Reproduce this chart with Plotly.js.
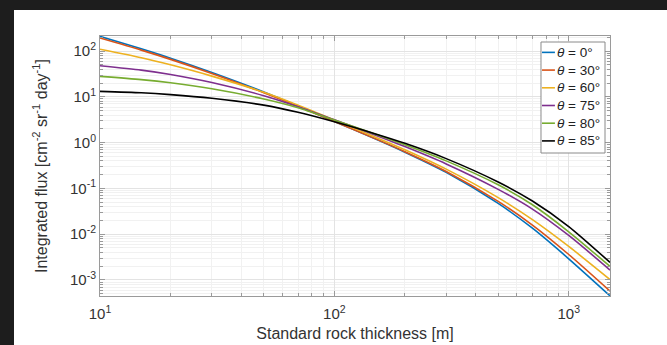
<!DOCTYPE html>
<html>
<head>
<meta charset="utf-8">
<script src="https://cdn.plot.ly/plotly-3.0.1.min.js"></script>
<style>
  html, body { margin: 0; padding: 0; width: 667px; height: 345px; overflow: hidden; background: #1d1d1d; }
  #chart { position: absolute; left: 14px; top: 10px; width: 653px; height: 335px; background: #fff; }
</style>
</head>
<body>
<div id="chart"></div>
<script>
// thickness [m]
const thickness = [10, 15, 20, 30, 50, 70, 100, 150, 200, 300, 500, 700, 1000, 1500];

const names = ['<i>θ</i> = 0°', '<i>θ</i> = 30°', '<i>θ</i> = 60°', '<i>θ</i> = 75°', '<i>θ</i> = 80°', '<i>θ</i> = 85°'];

const flux0  = [210, 112, 70, 34, 12.8, 6.3, 2.9, 1.2, 0.62, 0.225, 0.047, 0.0135, 2.9e-3, 4.5e-4];
const flux30 = [193, 105, 66, 32.5, 12.3, 6.2, 2.9, 1.21, 0.635, 0.235, 0.052, 0.0158, 3.6e-3, 5.7e-4];
const flux60 = [110, 71.8, 50.1, 28.4, 12.6, 6.6, 3.14, 1.32, 0.70, 0.264, 0.063, 0.0208, 5.4e-3, 1.02e-3];
const flux75 = [48, 38.4, 30.9, 20.6, 10.6, 6.1, 3.15, 1.46, 0.82, 0.343, 0.0955, 0.0354, 9.4e-3, 1.65e-3];
const flux80 = [28, 23.8, 20.3, 15.0, 9.0, 5.8, 3.11, 1.53, 0.90, 0.40, 0.12, 0.044, 0.0113, 1.98e-3];
const flux85 = [13.2, 12.3, 11.2, 9.3, 6.6, 4.6, 2.85, 1.55, 0.966, 0.448, 0.138, 0.053, 0.0147, 2.42e-3];

const colors = ['#0072BD', '#D95319', '#EDB120', '#7E2F8E', '#77AC30', '#000000'];

const xTickVals = [10, 100, 1000];
const xTickText = ['10<sup>1</sup>', '10<sup>2</sup>', '10<sup>3</sup>'];
const yTickVals = [1e-3, 1e-2, 1e-1, 1, 10, 100];
const yTickText = ['10<sup>-3</sup>', '10<sup>-2</sup>', '10<sup>-1</sup>', '10<sup>0</sup>', '10<sup>1</sup>', '10<sup>2</sup>'];

function minorVals(lo, hi) {
  const out = [];
  for (let e = lo; e <= hi; e++) {
    for (let m = 2; m <= 9; m++) out.push(m * Math.pow(10, e));
  }
  return out;
}

const series = [flux0, flux30, flux60, flux75, flux80, flux85];
const traces = series.map((ys, i) => ({
  x: thickness, y: ys, name: names[i], type: 'scatter', mode: 'lines',
  line: { color: colors[i], width: 1.6, shape: 'spline', smoothing: 0.7 },
  showlegend: false
}));

const fam = 'Liberation Sans, Arial, sans-serif';

// custom MATLAB-like legend (box + short sample lines + labels), in paper coords
const legX0 = 0.8647, legX1 = 0.9902, legY0 = 0.55, legY1 = 0.9769;
const rowTop = 0.937, rowStep = 0.0681;
const shapes = [{
  type: 'rect', xref: 'paper', yref: 'paper', x0: legX0, x1: legX1, y0: legY0, y1: legY1,
  line: { color: '#8a8a8a', width: 1 }, fillcolor: '#ffffff', layer: 'above'
}];
const annotations = [];
names.forEach((nm, i) => {
  const yy = rowTop - i * rowStep;
  shapes.push({ type: 'line', xref: 'paper', yref: 'paper', x0: 0.8667, x1: 0.892, y0: yy, y1: yy,
    line: { color: colors[i], width: 1.6 }, layer: 'above' });
  annotations.push({ xref: 'paper', yref: 'paper', x: 0.893, y: yy, xanchor: 'left', yanchor: 'middle',
    text: nm, showarrow: false, font: { family: fam, size: 13.5, color: '#222' } });
});

const axisCommon = {
  type: 'log',
  tickmode: 'array',
  showline: true, linecolor: '#9a9a9a', linewidth: 1,
  mirror: 'allticks',
  ticks: 'inside', ticklen: 5, tickcolor: '#9a9a9a',
  showgrid: true, gridcolor: '#e3e3e3', gridwidth: 1,
  zeroline: false,
  tickfont: { family: fam, size: 15, color: '#333' }
};

const layout = {
  width: 653, height: 335,
  margin: { l: 86, r: 57, t: 26, b: 49 },
  paper_bgcolor: '#ffffff', plot_bgcolor: '#ffffff',
  font: { family: fam, color: '#333' },
  showlegend: false,
  shapes: shapes,
  annotations: annotations,
  xaxis: Object.assign({}, axisCommon, {
    range: [1, Math.log10(1500)],
    tickvals: xTickVals, ticktext: xTickText,
    ticklabelstandoff: 4,
    minor: { tickvals: minorVals(1, 3), ticks: 'inside', ticklen: 3, tickcolor: '#9a9a9a', showgrid: true, gridcolor: '#f1f1f1' },
    title: { text: 'Standard rock thickness [m]', font: { family: fam, size: 16, color: '#333' }, standoff: 6 }
  }),
  yaxis: Object.assign({}, axisCommon, {
    range: [-3.35, 2.33],
    tickvals: yTickVals, ticktext: yTickText,
    minor: { tickvals: minorVals(-4, 2), ticks: 'inside', ticklen: 3, tickcolor: '#9a9a9a', showgrid: true, gridcolor: '#f1f1f1' },
    title: { text: 'Integrated flux [cm<sup>-2</sup> sr<sup>-1</sup> day<sup>-1</sup>]', font: { family: fam, size: 16, color: '#333' }, standoff: 18 }
  })
};

Plotly.newPlot('chart', traces, layout, { displayModeBar: false, staticPlot: true });
</script>
</body>
</html>
